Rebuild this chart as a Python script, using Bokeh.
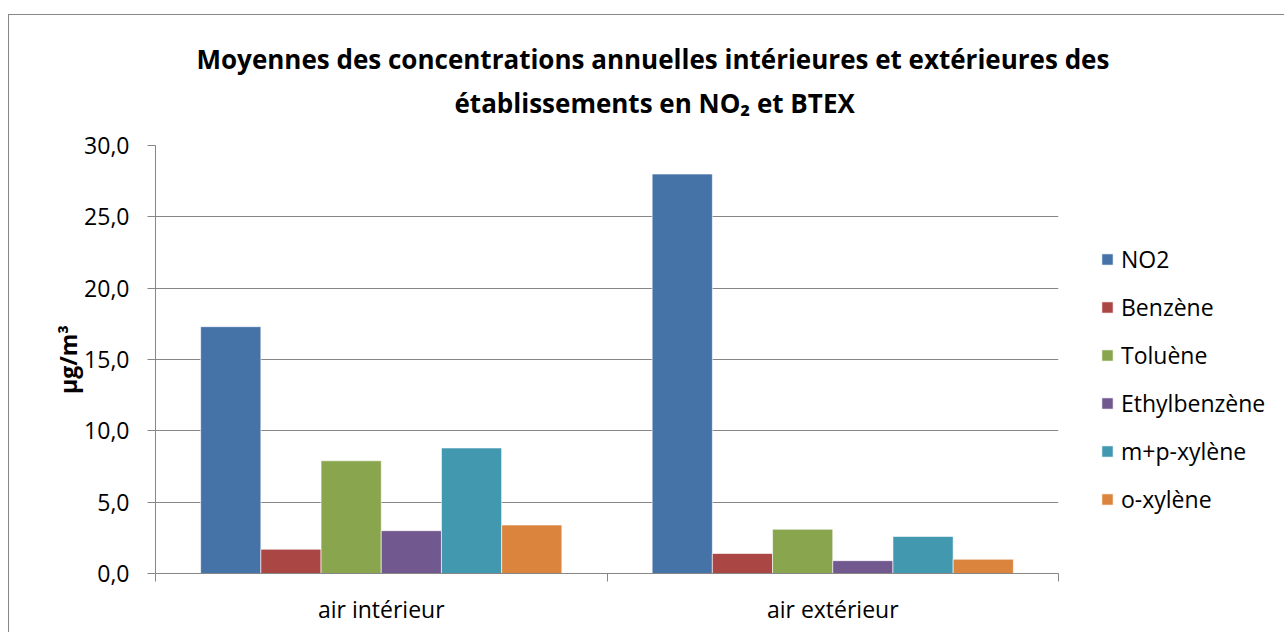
from bokeh.plotting import figure
from bokeh.models import (Range1d, FixedTicker, Legend, LegendItem, Title,
                          CustomJSTickFormatter, ColumnDataSource)
from bokeh.transform import dodge
from bokeh.embed import file_html
from bokeh.resources import INLINE

groups = ["air intérieur", "air extérieur"]
series = ["NO2", "Benzène", "Toluène", "Ethylbenzène", "m+p-xylène", "o-xylène"]
no2 = [17.3, 28.0]
benzene = [1.7, 1.4]
toluene = [7.9, 3.1]
ethylbenzene = [3.0, 0.9]
mp_xylene = [8.8, 2.6]
o_xylene = [3.4, 1.0]
colors = ["#4572A7", "#AA4643", "#89A54E", "#71588F", "#4198AF", "#DB843D"]
y_ticks = [0, 5, 10, 15, 20, 25, 30]
title_lines = ["Moyennes des concentrations annuelles intérieures et extérieures des",
               "établissements en NO₂ et BTEX"]

values = [no2, benzene, toluene, ethylbenzene, mp_xylene, o_xylene]
keys = ["s%d" % i for i in range(len(series))]
data = {"group": groups, "pos": [i + 0.5 for i in range(len(groups))]}
for k, v in zip(keys, values):
    data[k] = v
src = ColumnDataSource(data)

FONT = "Open Sans"
GRAY = "#868686"

p = figure(x_range=Range1d(0, len(groups)), y_range=Range1d(0, 30),
           frame_width=903, frame_height=428, output_backend="svg", toolbar_location=None,
           min_border_left=146, min_border_right=226,
           min_border_bottom=59, min_border_top=130)
p.styles = {"margin-left": "8px", "margin-top": "14px",
            "border-top": "1px solid #878787", "border-left": "1px solid #878787"}
p.outline_line_color = None
p.background_fill_color = "white"
p.border_fill_color = "white"

n = len(series)
bw = 0.8 / n
renderers = []
for i, k in enumerate(keys):
    r = p.vbar(x=dodge("pos", (i - (n - 1) / 2) * bw), top=k, width=bw,
               source=src, fill_color=colors[i], line_color="white", line_alpha=0.6,
               line_width=1)
    renderers.append(r)

# y axis
ya = p.yaxis[0]
ya.ticker = FixedTicker(ticks=y_ticks, minor_ticks=[])
ya.formatter = CustomJSTickFormatter(code="return tick.toFixed(1).replace('.', ',');")
ya.axis_line_color = GRAY
ya.major_tick_line_color = GRAY
ya.major_tick_out = 8
ya.major_tick_in = 0
ya.major_label_standoff = 18
ya.major_label_text_font = FONT
ya.major_label_text_font_size = "23px"
ya.major_label_text_color = "black"
ya.axis_label = "µg/m³"
ya.axis_label_text_font = FONT
ya.axis_label_text_font_style = "bold"
ya.axis_label_text_font_size = "23px"
ya.axis_label_text_color = "black"
ya.axis_label_standoff = -3

p.ygrid.grid_line_color = GRAY
p.ygrid.grid_line_width = 1
p.xgrid.grid_line_color = None

# x axis (labels at group centres, ticks between groups)
xa = p.xaxis[0]
xa.ticker = FixedTicker(ticks=[i + 0.5 for i in range(len(groups))],
                        minor_ticks=list(range(len(groups) + 1)))
xa.formatter = CustomJSTickFormatter(args=dict(labels=groups),
                                     code="return labels[Math.floor(tick)];")
xa.axis_line_color = GRAY
xa.major_tick_out = 0
xa.major_tick_in = 0
xa.major_tick_line_color = None
xa.minor_tick_out = 8
xa.minor_tick_in = 0
xa.minor_tick_line_color = GRAY
xa.major_label_standoff = 11
xa.major_label_text_font = FONT
xa.major_label_text_font_size = "23px"
xa.major_label_text_color = "black"

# legend
legend = Legend(items=[LegendItem(label=s, renderers=[r]) for s, r in zip(series, renderers)],
                location=(42, 58), orientation="vertical")
legend.border_line_color = None
legend.background_fill_alpha = 0
legend.padding = 0
legend.margin = 0
legend.glyph_width = 14
legend.glyph_height = 14
legend.label_height = 28
legend.spacing = 16
legend.label_standoff = 7
legend.label_text_font = FONT
legend.label_text_font_size = "23px"
legend.label_text_color = "black"
p.add_layout(legend, "right")

# two-line title (last added is on top)
t2 = Title(text=title_lines[1], align="left", offset=299, standoff=50,
           text_font=FONT, text_font_style="bold", text_font_size="26px", text_color="black")
t1 = Title(text=title_lines[0], align="left", offset=41, standoff=-38,
           text_font=FONT, text_font_style="bold", text_font_size="26px", text_color="black")
p.add_layout(t2, "above")
p.add_layout(t1, "above")

open("out.html", "w").write(file_html(p, INLINE))
